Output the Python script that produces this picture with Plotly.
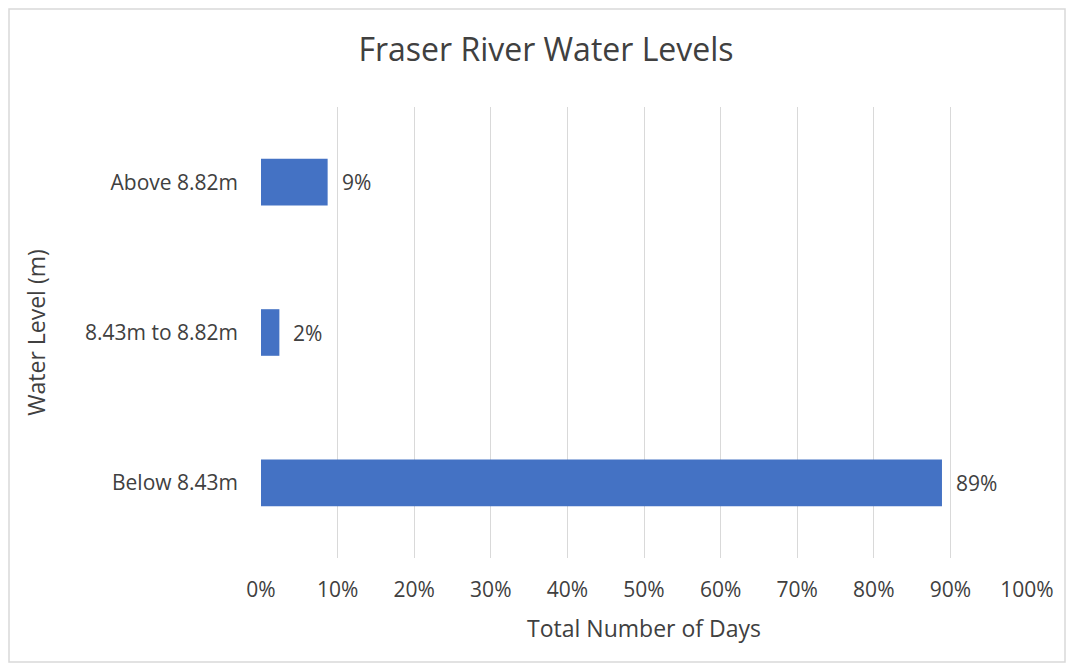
import plotly.graph_objects as go

categories = ["Below 8.43m", "8.43m to 8.82m", "Above 8.82m"]
values = [0.889, 0.024, 0.087]
labels = ["89%", "2%", "9%"]
tick_vals = [i / 10 for i in range(11)]
tick_text = [f"{i*10}%" for i in range(11)]

# page has an 8px body margin; figure coordinates are offset accordingly
W, H = 1066, 663
ml, mt = 253, 99
pw, ph = 766, 451
mr, mb = W - ml - pw, H - mt - ph

fig = go.Figure(go.Bar(
    y=categories, x=values, orientation="h",
    marker=dict(color="#4472C4", line=dict(width=0)),
    width=0.31,
))

for c, v, t in zip(categories, values, labels):
    fig.add_annotation(x=v, y=c, text=t, showarrow=False, xanchor="left",
                       xshift=12, font=dict(size=21, color="#404040"))

font = "Open Sans"
fig.update_layout(
    width=W, height=H,
    margin=dict(l=ml, r=mr, t=mt, b=mb),
    paper_bgcolor="white", plot_bgcolor="white",
    font=dict(family=font, color="#404040", size=21),
    title=dict(text="Fraser River Water Levels", x=538 / W,
               xanchor="center", xref="container",
               y=1 - 42 / H, yanchor="middle",
               font=dict(size=32, color="#404040", family=font)),
    showlegend=False,
    xaxis=dict(range=[0, 1], tickvals=tick_vals, ticktext=tick_text,
               showgrid=True, gridcolor="#d9d9d9", gridwidth=1.3,
               zeroline=False, showline=False, ticks="", automargin=False,
               tickfont=dict(size=21, color="#404040"), ticklabelstandoff=17,
               title=dict(text="Total Number of Days", standoff=18,
                          font=dict(size=23, color="#404040"))),
    yaxis=dict(showgrid=False, zeroline=False, showline=False, ticks="",
               range=[-0.5, 2.5], automargin=False,
               tickfont=dict(size=21, color="#404040"), ticklabelstandoff=22,
               title=dict(text="Water Level (m)", standoff=32,
                          font=dict(size=23, color="#404040"))),
    shapes=[dict(type="rect", xref="paper", yref="paper",
                 x0=(1 - ml) / pw, x1=(1057 - ml) / pw,
                 y0=(mt + ph - 654) / ph, y1=(mt + ph - 1) / ph,
                 line=dict(color="#d9d9d9", width=1.5), layer="below")],
)

fig.write_html("out.html")
